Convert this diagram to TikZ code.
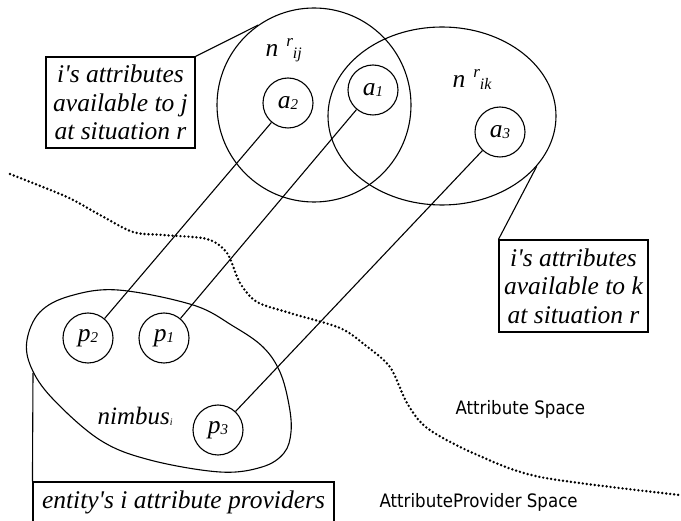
\documentclass[tikz,border=0pt]{standalone}
\usepackage{fontspec}
\setmainfont{Liberation Serif}
\newfontfamily\labsans[FakeStretch=0.9]{DejaVu Sans}
\usetikzlibrary{shapes.geometric}
\newcommand{\bigit}{\fontsize{25.5}{28.5}\selectfont\itshape}
\newcommand{\subsc}[1]{\raisebox{-1.5pt}{\fontsize{15}{15}\selectfont\itshape #1}}
\begin{document}
\begin{tikzpicture}[x=1pt,y=-1pt,
  line width=1.1pt,
  item/.style={circle,draw,minimum size=50pt,inner sep=0pt,font=\bigit},
  callout/.style={draw,inner sep=0pt,align=center,font=\bigit},
  plain/.style={inner sep=0pt},
  spacelabel/.style={inner sep=0pt,anchor=base west,font=\labsans\fontsize{18.5}{20}\selectfont}]
\useasboundingbox (0,0) rectangle (681,521);

% attribute sets
\node[circle,draw,minimum size=194pt,inner sep=0pt] (nij) at (314,105) {};
\node[ellipse,draw,minimum width=228pt,minimum height=178pt,inner sep=0pt] (nik) at (442,116) {};

% attributes
\node[item] (a2) at (288,103) {a\subsc{2}};
\node[item] (a1) at (373,90) {a\subsc{1}};
\node[item] (a3) at (500,132) {a\subsc{3}};

% set labels
\node[plain,anchor=base west] (lij) at (265,57) {\bigit n\hspace{8pt}\raisebox{10pt}{\fontsize{17}{17}\selectfont r}\raisebox{-1.5pt}{\fontsize{16}{16}\selectfont ij}};
\node[plain,anchor=base west] (lik) at (452,88) {\bigit n\hspace{8pt}\raisebox{10pt}{\fontsize{17}{17}\selectfont r}\raisebox{-2pt}{\fontsize{16}{16}\selectfont ik}};

% nimbus blob
\draw plot[smooth cycle,tension=0.6] coordinates {(118,290) (193,305) (233,326) (263,347) (280,372) (289,405) (291,432) (284,453) (262,467) (220,472) (150,460) (100,440) (52,398) (31,367) (27,340) (40,312) (70,296)};
\coordinate (blobpt) at (33,373);

% providers
\node[item] (p2) at (88,338) {p\subsc{2}};
\node[item] (p1) at (164,338) {p\subsc{1}};
\node[item] (p3) at (218,430) {p\subsc{3}};
\node[plain,anchor=base west] (nimb) at (97,425) {\fontsize{25}{25}\selectfont\itshape nimbus\raisebox{-0.5pt}{\fontsize{10}{10}\selectfont i}};

% connectors
\draw (a2) -- (p2);
\draw (a1) -- (p1);
\draw (a3) -- (p3);

% callouts
\node[callout,minimum width=149pt,minimum height=91pt] (box1) at (120.5,102.5) {i\textquotesingle s attributes\\available to j\\at situation r};
\node[callout,minimum width=149pt,minimum height=92pt] (box2) at (573.5,286) {i\textquotesingle s attributes\\available to k\\at situation r};
\node[callout,minimum width=301pt,minimum height=40pt] (box3) at (183.5,502) {entity\textquotesingle s i attribute providers};
\draw (box1.north east) -- (nij.125);
\draw (box2.north west) -- (nik.-28);
\draw (box3.north west) -- (blobpt);

% boundary between spaces
\draw[line width=2.7pt,dash pattern=on 0pt off 4pt,line cap=round] plot[smooth,tension=0.5] coordinates {(10,174) (67,197) (100,215) (133,232) (163,235) (207,239) (227,253) (240,283) (257,302) (290,313) (340,328) (365,345) (390,367) (407,403) (427,428) (473,453) (540,477) (680,495)};

\node[spacelabel] (as) at (455,415) {Attribute Space};
\node[spacelabel] (aps) at (379,508) {AttributeProvider Space};
\end{tikzpicture}
\end{document}
